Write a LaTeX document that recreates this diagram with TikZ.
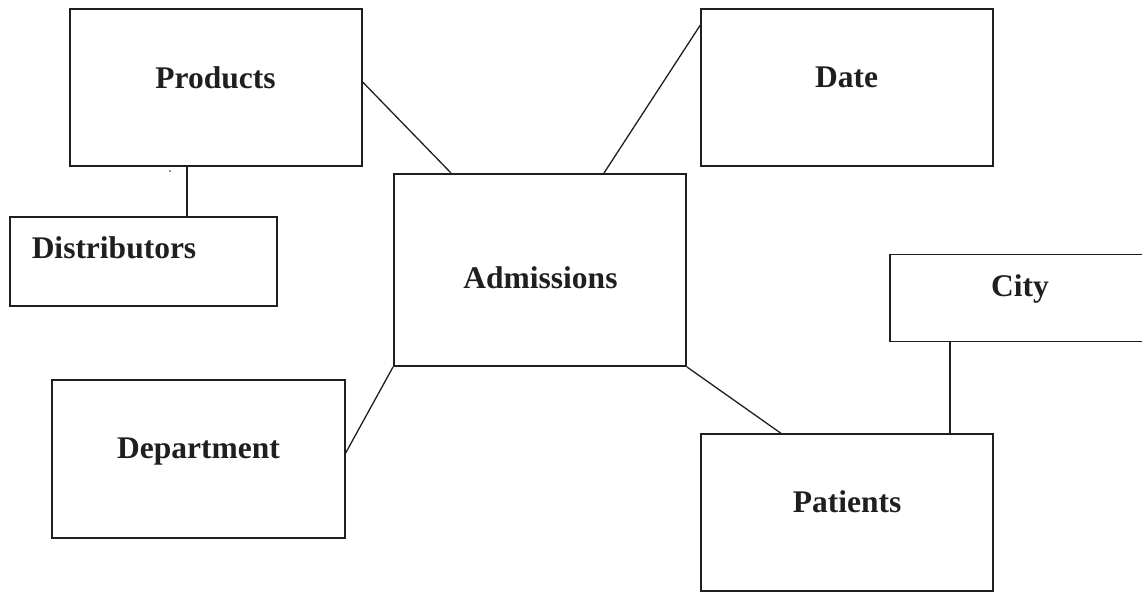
\documentclass[tikz,border=0pt]{standalone}
\usepackage{fontspec}
\setmainfont{Liberation Serif}
\begin{document}
\begin{tikzpicture}[x=1pt,y=-1pt,
  box/.style={draw=black!88, line width=1.3pt, rectangle, inner sep=0pt},
  mainbox/.style={draw=black!88, line width=2pt, rectangle, inner sep=0pt},
  lbl/.style={anchor=base, inner sep=0pt, text=black!88, font=\fontsize{31.5}{36}\selectfont\bfseries},
  link/.style={draw=black!88, line width=1.3pt}]
\useasboundingbox (0,0) rectangle (1142,592);
% boxes
\node[box, minimum width=292pt, minimum height=157pt] (prod) at (216,87.5) {};
\node[box, minimum width=267pt, minimum height=89pt] (dist) at (143.5,261.5) {};
\node[mainbox, minimum width=292pt, minimum height=192pt] (adm) at (540,270) {};
\node[box, minimum width=292pt, minimum height=157pt] (date) at (847,87.5) {};
\node[box, minimum width=260pt, minimum height=87pt] (city) at (1020,298) {};
\node[box, minimum width=293pt, minimum height=158pt] (dept) at (198.5,459) {};
\node[box, minimum width=292pt, minimum height=157pt] (pat) at (847,512.5) {};
% labels
\node[lbl] (prodl) at (215.5,88) {Products};
\node[lbl] (distl) at (114,258) {Distributors};
\node[lbl] (adml) at (540.5,288) {Admissions};
\node[lbl] (datel) at (846.5,87) {Date};
\node[lbl] (cityl) at (1020,296) {City};
\node[lbl] (deptl) at (198.5,458) {Department};
\node[lbl] (patl) at (847,512) {Patients};
% connectors
\draw[link] ([yshift=5.5pt]prod.east) -- ([xshift=-89pt]adm.north);
\draw[link] ([yshift=62.5pt]date.west) -- ([xshift=64pt]adm.north);
\draw[link] ([xshift=-29pt]prod.south) coordinate (pd) -- (pd |- dist.north);
\draw[link] (adm.south west) -- ([yshift=6pt]dept.east);
\draw[link] (adm.south east) -- ([xshift=-66pt]pat.north);
\draw[link] ([xshift=-70pt]city.south) coordinate (cp) -- (cp |- pat.north);
% stray dot
\fill[black!88] (170,171) circle (0.9pt);
\end{tikzpicture}
\end{document}
